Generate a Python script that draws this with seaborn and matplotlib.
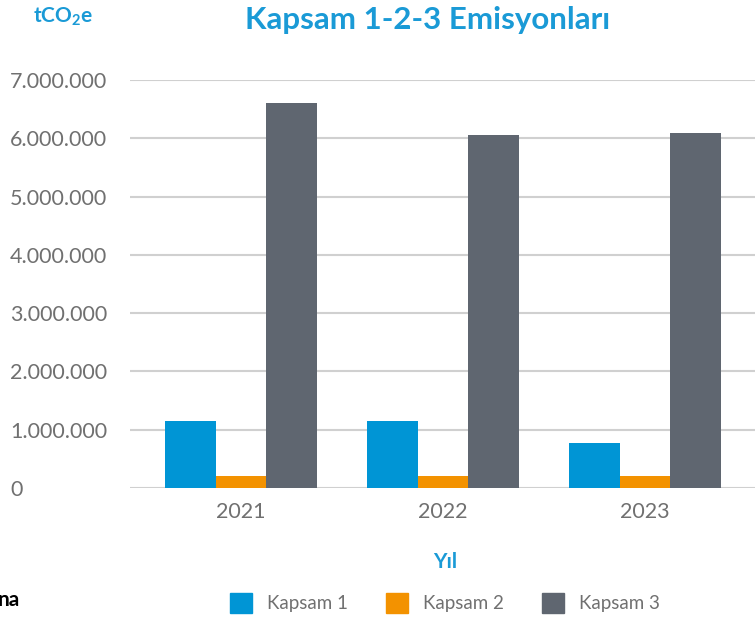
import matplotlib
matplotlib.use("Agg")
import matplotlib.pyplot as plt
import seaborn as sns
import pandas as pd
from matplotlib.ticker import FuncFormatter, MultipleLocator

years = ["2021", "2022", "2023"]
kapsam1 = [1150000, 1150000, 770000]
kapsam2 = [210000, 210000, 210000]
kapsam3 = [6600000, 6050000, 6090000]
series_names = ["Kapsam 1", "Kapsam 2", "Kapsam 3"]
colors = ["#0095d5", "#f39200", "#5f6670"]

rows = []
for name, vals in zip(series_names, [kapsam1, kapsam2, kapsam3]):
    for y, v in zip(years, vals):
        rows.append({"Yıl": y, "Seri": name, "Değer": v})
df = pd.DataFrame(rows)

sns.set_theme(style="white")
plt.rcParams["font.family"] = ["Lato", "DejaVu Sans"]

fig = plt.figure(figsize=(7.55, 6.17), dpi=100)
ax = fig.add_axes([130 / 755, 1 - 488 / 617, 630 / 755, (488 - 80) / 617])

sns.barplot(data=df, x="Yıl", y="Değer", hue="Seri", palette=colors,
            width=0.75, ax=ax, saturation=1, legend=False, zorder=3, linewidth=0)

ax.set_ylim(0, 7000000)
ax.set_xlim(-0.55, 2.57)
ax.yaxis.set_major_locator(MultipleLocator(1000000))
ax.yaxis.set_major_formatter(FuncFormatter(lambda v, p: f"{int(v):,}".replace(",", ".")))
ax.grid(axis="y", color="#d0d0d0", linewidth=1.5, zorder=0)
for s in ax.spines.values():
    s.set_visible(False)
ax.tick_params(axis="both", length=0, colors="#707070", labelsize=15.5)
ax.tick_params(axis="x", pad=10)
ax.tick_params(axis="y", pad=120 * 0.72)
for lab in ax.get_yticklabels():
    lab.set_horizontalalignment("left")
ax.set_ylabel("")
ax.set_xlabel("Yıl", color="#1a9ad6", fontsize=15, fontweight="bold", labelpad=22)

fig.text(428 / 755, 1 - 20 / 617, "Kapsam 1-2-3 Emisyonları", color="#1a9ad6",
         fontsize=22.5, fontweight="bold", ha="center", va="center")
fig.text(33 / 755, 1 - 17 / 617, r"tCO$_\mathregular{2}$e", color="#1a9ad6",
         fontsize=15, fontweight="bold", ha="left", va="center")
fig.text(-2 / 755, 1 - 600 / 617, "na", color="black", fontsize=15,
         fontweight="bold", ha="left", va="center")

handles = [plt.Rectangle((0, 0), 1, 1, color=c) for c in colors]
leg = fig.legend(handles, series_names, loc="center", bbox_to_anchor=(445 / 755, 1 - 603 / 617),
                 ncol=3, frameon=False, fontsize=13.5, handlelength=1.2, handleheight=1.2,
                 columnspacing=2.0, handletextpad=0.8)
for t in leg.get_texts():
    t.set_color("#707070")

fig.savefig("out.png", dpi=100)
